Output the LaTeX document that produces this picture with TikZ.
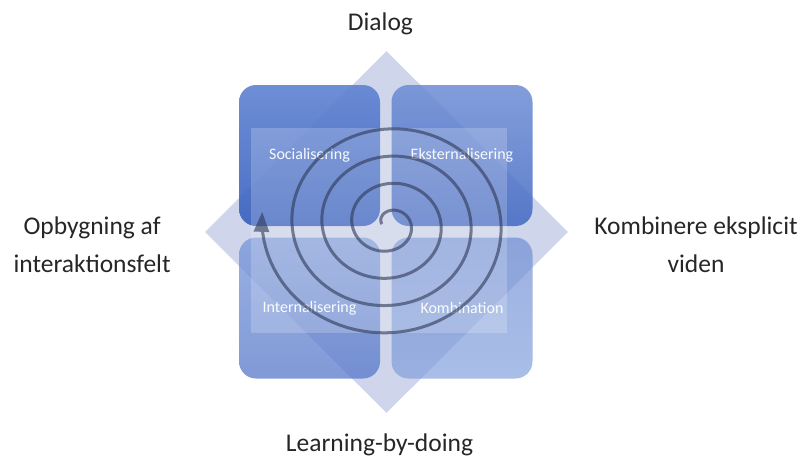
\documentclass[tikz,border=0pt]{standalone}
\usepackage{fontspec}
\setmainfont{Carlito}
\usetikzlibrary{shapes.geometric,positioning,arrows.meta}
\definecolor{lav}{RGB}{207,213,234}
\definecolor{spir}{RGB}{45,55,85}

\begin{document}
\begin{tikzpicture}[x=1pt, y=-1pt,
	tile/.style={rounded corners=17pt, minimum size=141pt, inner sep=0pt,
		text=white, text opacity=.95, font=\fontsize{16}{19}\selectfont},
	side/.style={align=center, text=black!85, inner sep=0pt,
		font=\fontsize{25.5}{38}\selectfont}]
	\useasboundingbox (0,0) rectangle (806,459);
	\node[diamond, fill=lav, minimum width=363pt, minimum height=362pt,
		inner sep=0pt] (dia) at (386.5,232) {};
	\node[tile, fill opacity=.92, top color={rgb,255:red,98;green,132;blue,210},
		bottom color={rgb,255:red,58;green,98;blue,190}] (sos) at (309.5,155.5) {Socialisering};
	\node[tile, fill opacity=.85, top color={rgb,255:red,108;green,140;blue,212},
		bottom color={rgb,255:red,66;green,104;blue,194}] (eks) at (462,155.5) {Eksternalisering};
	\node[tile, fill opacity=.75, top color={rgb,255:red,120;green,150;blue,216},
		bottom color={rgb,255:red,86;green,120;blue,202}] (int) at (309.5,308) {Internalisering};
	\node[tile, fill opacity=.68, top color={rgb,255:red,108;green,140;blue,212},
		bottom color={rgb,255:red,128;green,158;blue,220}] (kom) at (462,308) {Kombination};
	\node[fill=white, fill opacity=.2, minimum width=256pt, minimum height=205pt,
		inner sep=0pt] (pane) at (379,230.5) {};
	\node[side, left=34pt of dia, yshift=-13pt] (opb) {Opbygning af\\interaktionsfelt};
	\node[side, right=26pt of dia, yshift=-13pt] (kex) {Kombinere eksplicit\\viden};
	\node[side, above=16pt of dia, xshift=-6pt] (dlg) {Dialog};
	\node[side, below=20pt of dia, xshift=-7pt] (lbd) {Learning-by-doing};
	\begin{scope}[transparency group, opacity=.6]
		\draw[spir, line width=3pt, -{Triangle[length=20pt,width=15pt]}]
			plot[domain=-2:14.07, samples=400, variable=\k]
			({389+(22+7.5*\k)*cos(90*\k)}, {224+0.91*(22+7.5*\k)*sin(90*\k)});
	\end{scope}
\end{tikzpicture}
\end{document}
